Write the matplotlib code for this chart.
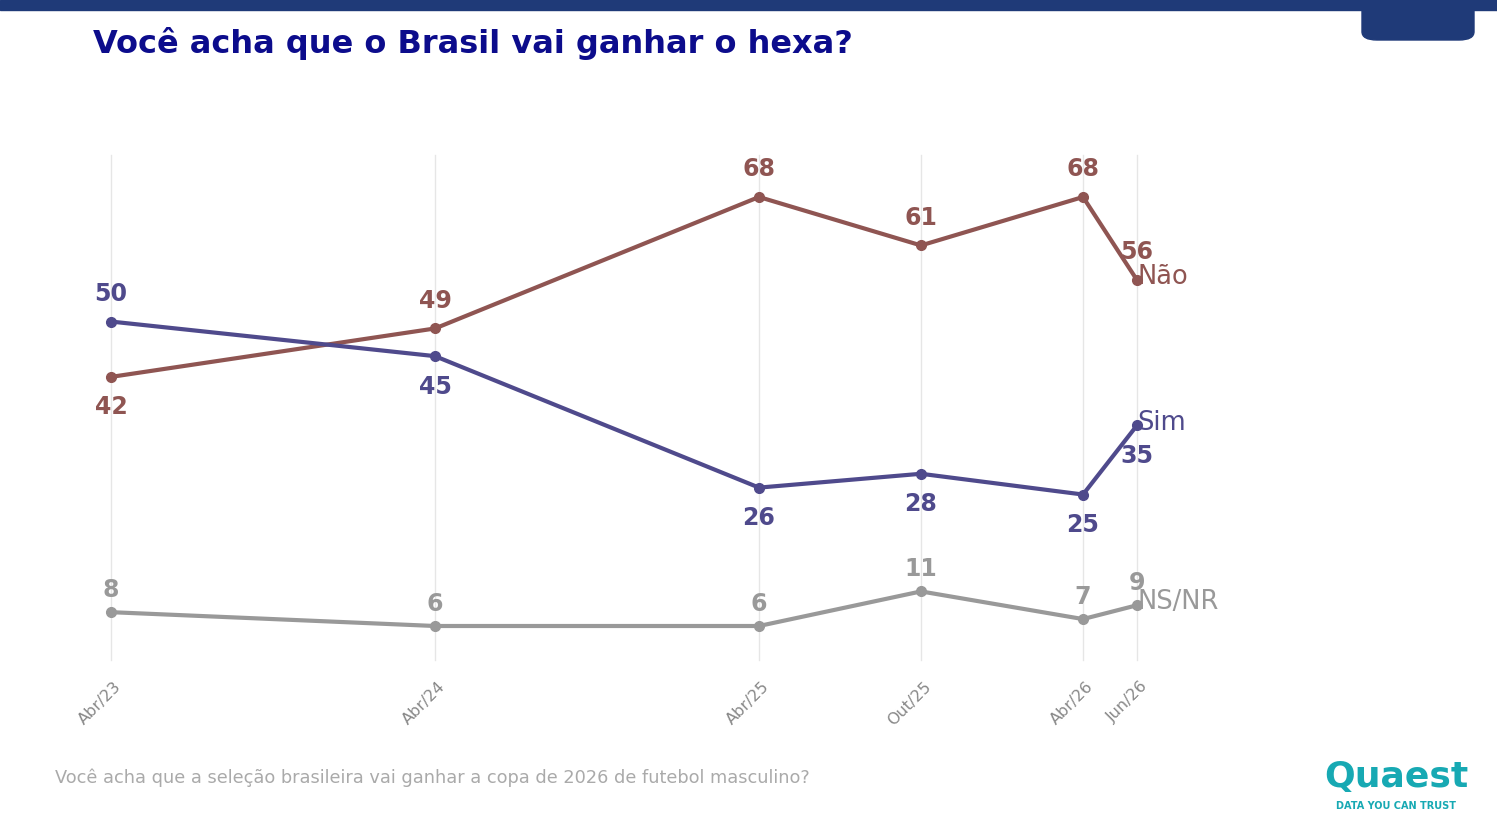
import matplotlib.pyplot as plt
from matplotlib.patches import FancyBboxPatch, Rectangle

# months since Apr/2023
months = [0, 12, 24, 30, 36, 38]
tick_labels = ['Abr/23', 'Abr/24', 'Abr/25', 'Out/25', 'Abr/26', 'Jun/26']
nao = [42, 49, 68, 61, 68, 56]
sim = [50, 45, 26, 28, 25, 35]
nsnr = [8, 6, 6, 11, 7, 9]

W, H = 1497, 835
fig = plt.figure(figsize=(W / 100, H / 100), dpi=100)
ax = fig.add_axes([111 / W, 1 - 626 / H, (1137 - 111) / W, (626 - 197) / H])
ax.set_xlim(0, 38)
ax.set_ylim(6, 68)
ax.axis('off')

for m in months:
    ax.plot([m, m], [1.1, 74.1], color='#e6e6e6', lw=1, clip_on=False, zorder=0)

C_NAO, C_SIM, C_NS = '#8f5552', '#4f4a8c', '#999999'
series = [(nao, C_NAO, 'Não'), (sim, C_SIM, 'Sim'), (nsnr, C_NS, 'NS/NR')]
for vals, c, name in series:
    ax.plot(months, vals, color=c, lw=3, marker='o', ms=7, clip_on=False)

def lab(x, y, txt, c, dy):
    ax.annotate(str(txt), (x, y), xytext=(0, dy), textcoords='offset points',
                ha='center', va='center', color=c, fontsize=17, fontweight='bold')

nao_off = [-22, 20, 20, 20, 20, 20]
sim_off = [20, -22, -22, -22, -22, -22]
ns_off = [16, 16, 16, 16, 16, 16]
for i, m in enumerate(months):
    lab(m, nao[i], nao[i], C_NAO, nao_off[i])
    lab(m, sim[i], sim[i], C_SIM, sim_off[i])
    lab(m, nsnr[i], nsnr[i], C_NS, ns_off[i])

for vals, c, name in series:
    ax.annotate(name, (months[-1], vals[-1]), xytext=(0, 2), textcoords='offset points',
                ha='left', va='center', color=c, fontsize=18.5)

for m, t in zip(months, tick_labels):
    ax.text(m + 0.3, -2.4, t, rotation=45, rotation_mode='anchor', ha='right', va='center',
            color='#888888', fontsize=11.5)

# header
fig.patches.append(Rectangle((0, 1 - 10 / H), 1, 10 / H, transform=fig.transFigure,
                             color='#1f3a78', zorder=5))
fig.patches.append(FancyBboxPatch((1362 / W, 1 - 40 / H), 112 / W, 40 / H,
                                  boxstyle='round,pad=0,rounding_size=0.01',
                                  transform=fig.transFigure, color='#1f3a78', zorder=5))
fig.text(93 / W, 1 - 44 / H, 'Você acha que o Brasil vai ganhar o hexa?', fontsize=23,
         fontweight='bold', color='#0c0c8c', va='center')
fig.text(55 / W, 1 - 778 / H,
         'Você acha que a seleção brasileira vai ganhar a copa de 2026 de futebol masculino?',
         fontsize=12.8, color='#aaaaaa', va='center')
fig.text(1396 / W, 1 - 777 / H, 'Quaest', fontsize=26, fontweight='bold', color='#17a9b3',
         ha='center', va='center')
fig.text(1396 / W, 1 - 806 / H, 'DATA YOU CAN TRUST', fontsize=7, fontweight='bold',
         color='#17a9b3', ha='center', va='center')

fig.savefig('out.png', dpi=100)
